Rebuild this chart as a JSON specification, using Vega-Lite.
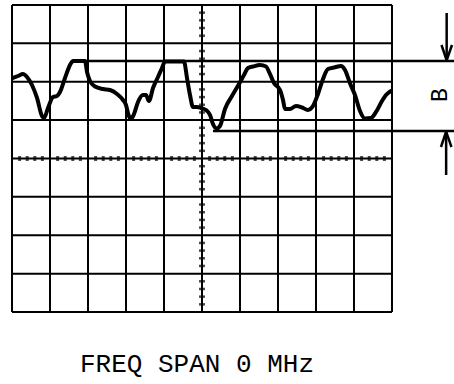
{
  "$schema": "https://vega.github.io/schema/vega-lite/v6.json",
  "width": 454,
  "height": 384,
  "padding": 0,
  "autosize": {"type": "none"},
  "background": "white",
  "config": {"view": {"stroke": null}},
  "datasets": {
    "grid": [
      {"x": 0, "x2": 0, "y": 0, "y2": 8},
      {"x": 1, "x2": 1, "y": 0, "y2": 8},
      {"x": 2, "x2": 2, "y": 0, "y2": 8},
      {"x": 3, "x2": 3, "y": 0, "y2": 8},
      {"x": 4, "x2": 4, "y": 0, "y2": 8},
      {"x": 5, "x2": 5, "y": 0, "y2": 8},
      {"x": 6, "x2": 6, "y": 0, "y2": 8},
      {"x": 7, "x2": 7, "y": 0, "y2": 8},
      {"x": 8, "x2": 8, "y": 0, "y2": 8},
      {"x": 9, "x2": 9, "y": 0, "y2": 8},
      {"x": 10, "x2": 10, "y": 0, "y2": 8},
      {"x": 0, "x2": 10, "y": 0, "y2": 0},
      {"x": 0, "x2": 10, "y": 1, "y2": 1},
      {"x": 0, "x2": 10, "y": 2, "y2": 2},
      {"x": 0, "x2": 10, "y": 3, "y2": 3},
      {"x": 0, "x2": 10, "y": 4, "y2": 4},
      {"x": 0, "x2": 10, "y": 5, "y2": 5},
      {"x": 0, "x2": 10, "y": 6, "y2": 6},
      {"x": 0, "x2": 10, "y": 7, "y2": 7},
      {"x": 0, "x2": 10, "y": 8, "y2": 8}
    ],
    "ticksH": [
      {"x": 0.2}, {"x": 0.4}, {"x": 0.6}, {"x": 0.8},
      {"x": 1.2}, {"x": 1.4}, {"x": 1.6}, {"x": 1.8},
      {"x": 2.2}, {"x": 2.4}, {"x": 2.6}, {"x": 2.8},
      {"x": 3.2}, {"x": 3.4}, {"x": 3.6}, {"x": 3.8},
      {"x": 4.2}, {"x": 4.4}, {"x": 4.6}, {"x": 4.8},
      {"x": 5.2}, {"x": 5.4}, {"x": 5.6}, {"x": 5.8},
      {"x": 6.2}, {"x": 6.4}, {"x": 6.6}, {"x": 6.8},
      {"x": 7.2}, {"x": 7.4}, {"x": 7.6}, {"x": 7.8},
      {"x": 8.2}, {"x": 8.4}, {"x": 8.6}, {"x": 8.8},
      {"x": 9.2}, {"x": 9.4}, {"x": 9.6}, {"x": 9.8}
    ],
    "ticksV": [
      {"y": 0.2}, {"y": 0.4}, {"y": 0.6}, {"y": 0.8},
      {"y": 1.2}, {"y": 1.4}, {"y": 1.6}, {"y": 1.8},
      {"y": 2.2}, {"y": 2.4}, {"y": 2.6}, {"y": 2.8},
      {"y": 3.2}, {"y": 3.4}, {"y": 3.6}, {"y": 3.8},
      {"y": 4.2}, {"y": 4.4}, {"y": 4.6}, {"y": 4.8},
      {"y": 5.2}, {"y": 5.4}, {"y": 5.6}, {"y": 5.8},
      {"y": 6.2}, {"y": 6.4}, {"y": 6.6}, {"y": 6.8},
      {"y": 7.2}, {"y": 7.4}, {"y": 7.6}, {"y": 7.8}
    ],
    "annot": [
      {"x": 1.605, "x2": 11.632, "y": 6.541, "y2": 6.541},
      {"x": 5.289, "x2": 11.632, "y": 4.717, "y2": 4.717},
      {"x": 11.439, "x2": 11.439, "y": 7.792, "y2": 6.56},
      {"x": 11.303, "x2": 11.439, "y": 6.958, "y2": 6.56},
      {"x": 11.579, "x2": 11.439, "y": 6.958, "y2": 6.56},
      {"x": 11.425, "x2": 11.425, "y": 4.70, "y2": 3.570},
      {"x": 11.289, "x2": 11.425, "y": 4.300, "y2": 4.70},
      {"x": 11.565, "x2": 11.425, "y": 4.300, "y2": 4.70}
    ],
    "trace": [
      {"t": 0.026, "v": 6.098}, {"t": 0.158, "v": 6.150}, {"t": 0.289, "v": 6.202},
      {"t": 0.395, "v": 6.124}, {"t": 0.526, "v": 5.915}, {"t": 0.658, "v": 5.577},
      {"t": 0.789, "v": 5.107}, {"t": 0.842, "v": 5.055}, {"t": 0.947, "v": 5.316},
      {"t": 1.079, "v": 5.603}, {"t": 1.184, "v": 5.629}, {"t": 1.263, "v": 5.733},
      {"t": 1.395, "v": 6.098}, {"t": 1.526, "v": 6.436}, {"t": 1.605, "v": 6.541},
      {"t": 1.921, "v": 6.541}, {"t": 1.974, "v": 6.254}, {"t": 2.053, "v": 6.020},
      {"t": 2.184, "v": 5.876}, {"t": 2.395, "v": 5.811}, {"t": 2.579, "v": 5.785},
      {"t": 2.763, "v": 5.681}, {"t": 2.921, "v": 5.524}, {"t": 3.0, "v": 5.394},
      {"t": 3.066, "v": 5.134}, {"t": 3.132, "v": 5.029}, {"t": 3.211, "v": 5.160},
      {"t": 3.316, "v": 5.472}, {"t": 3.447, "v": 5.655}, {"t": 3.526, "v": 5.655},
      {"t": 3.605, "v": 5.498}, {"t": 3.711, "v": 5.837}, {"t": 3.842, "v": 6.124},
      {"t": 3.947, "v": 6.358}, {"t": 4.026, "v": 6.528}, {"t": 4.526, "v": 6.528},
      {"t": 4.605, "v": 6.098}, {"t": 4.684, "v": 5.655}, {"t": 4.763, "v": 5.342},
      {"t": 4.868, "v": 5.342}, {"t": 4.974, "v": 5.316}, {"t": 5.105, "v": 5.264},
      {"t": 5.211, "v": 5.134}, {"t": 5.289, "v": 4.899}, {"t": 5.382, "v": 4.782},
      {"t": 5.474, "v": 4.847}, {"t": 5.605, "v": 5.290}, {"t": 5.789, "v": 5.629},
      {"t": 5.974, "v": 5.941}, {"t": 6.105, "v": 6.176}, {"t": 6.211, "v": 6.358},
      {"t": 6.342, "v": 6.397}, {"t": 6.526, "v": 6.436}, {"t": 6.684, "v": 6.397},
      {"t": 6.789, "v": 6.202}, {"t": 6.895, "v": 5.967}, {"t": 7.053, "v": 5.785},
      {"t": 7.132, "v": 5.524}, {"t": 7.184, "v": 5.290}, {"t": 7.316, "v": 5.290},
      {"t": 7.474, "v": 5.368}, {"t": 7.632, "v": 5.329}, {"t": 7.789, "v": 5.264},
      {"t": 7.921, "v": 5.368}, {"t": 8.053, "v": 5.681}, {"t": 8.184, "v": 6.072},
      {"t": 8.316, "v": 6.332}, {"t": 8.5, "v": 6.377}, {"t": 8.658, "v": 6.410},
      {"t": 8.763, "v": 6.306}, {"t": 8.895, "v": 5.960}, {"t": 9.026, "v": 5.655},
      {"t": 9.158, "v": 5.238}, {"t": 9.289, "v": 5.042}, {"t": 9.447, "v": 5.055},
      {"t": 9.579, "v": 5.212}, {"t": 9.737, "v": 5.498}, {"t": 9.842, "v": 5.655},
      {"t": 9.974, "v": 5.759}
    ],
    "labels": [
      {"x": 4.868, "y": -1.56, "text": "FREQ SPAN 0 MHz", "kind": "title"},
      {"x": 11.263, "y": 5.655, "text": "B", "kind": "b"}
    ]
  },
  "layer": [
    {
      "data": {"name": "grid"},
      "mark": {"type": "rule", "color": "black", "strokeWidth": 2},
      "encoding": {
        "x": {"field": "x", "type": "quantitative", "scale": {"domain": [-0.316, 11.632], "nice": false, "zero": false}, "axis": null},
        "x2": {"field": "x2"},
        "y": {"field": "y", "type": "quantitative", "scale": {"domain": [-1.876, 8.13], "nice": false, "zero": false}, "axis": null},
        "y2": {"field": "y2"}
      }
    },
    {
      "data": {"name": "ticksH"},
      "mark": {"type": "tick", "orient": "vertical", "color": "black", "size": 5, "thickness": 3},
      "encoding": {
        "x": {"field": "x", "type": "quantitative"},
        "y": {"datum": 4, "type": "quantitative"}
      }
    },
    {
      "data": {"name": "ticksV"},
      "mark": {"type": "tick", "orient": "horizontal", "color": "black", "size": 6, "thickness": 2.5},
      "encoding": {
        "y": {"field": "y", "type": "quantitative"},
        "x": {"datum": 5, "type": "quantitative"}
      }
    },
    {
      "data": {"name": "annot"},
      "mark": {"type": "rule", "color": "black", "strokeWidth": 2.5},
      "encoding": {
        "x": {"field": "x", "type": "quantitative"},
        "x2": {"field": "x2"},
        "y": {"field": "y", "type": "quantitative"},
        "y2": {"field": "y2"}
      }
    },
    {
      "data": {"name": "trace"},
      "mark": {"type": "line", "color": "black", "strokeWidth": 4, "interpolate": "monotone", "strokeJoin": "round", "strokeCap": "round"},
      "encoding": {
        "x": {"field": "t", "type": "quantitative"},
        "y": {"field": "v", "type": "quantitative"}
      }
    },
    {
      "data": {"name": "labels"},
      "transform": [{"filter": "datum.kind === 'title'"}],
      "mark": {"type": "text", "font": "Courier New, Courier, Liberation Mono, monospace", "fontSize": 26, "align": "center", "baseline": "alphabetic", "color": "black"},
      "encoding": {
        "x": {"field": "x", "type": "quantitative"},
        "y": {"field": "y", "type": "quantitative"},
        "text": {"field": "text"}
      }
    },
    {
      "data": {"name": "labels"},
      "transform": [{"filter": "datum.kind === 'b'"}],
      "mark": {"type": "text", "font": "Courier New, Courier, Liberation Mono, monospace", "fontSize": 23, "align": "center", "baseline": "middle", "angle": 270, "color": "black"},
      "encoding": {
        "x": {"field": "x", "type": "quantitative"},
        "y": {"field": "y", "type": "quantitative"},
        "text": {"field": "text"}
      }
    }
  ]
}
